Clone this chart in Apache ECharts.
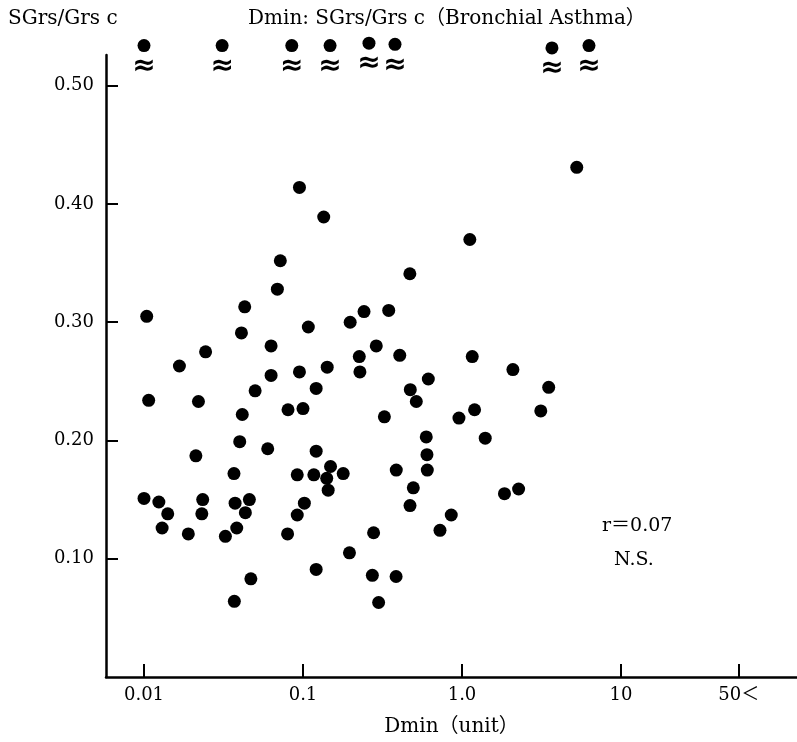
<!DOCTYPE html>
<html>
<head>
<meta charset="utf-8">
<title>Dmin: SGrs/Grs c (Bronchial Asthma)</title>
<script src="https://cdn.jsdelivr.net/npm/echarts@6.0.0/dist/echarts.min.js"></script>
<style>
  html, body { margin: 0; padding: 0; background: #fff; }
  #chart { width: 797px; height: 742px; }
</style>
</head>
<body>
<div id="chart"></div>
<script>
// Dmin (unit) and SGrs/Grs c for each patient
const dmin = [
  0.095, 0.135, 0.072, 0.069, 0.47, 0.043, 0.0104, 0.242, 0.346, 0.198,
  0.041, 0.108, 0.063, 0.289, 0.0244, 0.226, 0.406, 0.0167, 0.142, 0.063,
  0.095, 0.228, 0.614, 0.050, 0.121, 0.473, 0.0107, 0.022, 0.516,
  0.0415, 0.0805, 0.100, 0.325, 0.040, 0.060, 0.121, 0.596, 0.0212, 0.602,
  0.0368, 0.092, 0.117, 0.149, 0.141, 0.179, 0.144, 0.386, 0.605, 0.494,
  0.0100, 0.0124, 0.0141, 0.0130, 0.0234, 0.0231, 0.0190, 0.0374, 0.0460, 0.0434,
  0.0383, 0.0325, 0.102, 0.092, 0.080, 0.471, 0.856, 0.727, 0.278, 0.196,
  0.121, 0.047, 0.273, 0.385, 0.037, 0.299,
  5.27, 1.12, 1.16, 2.09, 3.51, 0.957, 1.20, 3.13, 1.40, 1.85, 2.27
]
const ratio = [
  0.414, 0.389, 0.352, 0.328, 0.341, 0.313, 0.305, 0.309, 0.310, 0.300,
  0.291, 0.296, 0.280, 0.280, 0.275, 0.271, 0.272, 0.263, 0.262, 0.255,
  0.258, 0.258, 0.252, 0.242, 0.244, 0.243, 0.234, 0.233, 0.233,
  0.222, 0.226, 0.227, 0.220, 0.199, 0.193, 0.191, 0.203, 0.187, 0.188,
  0.172, 0.171, 0.171, 0.178, 0.168, 0.172, 0.158, 0.175, 0.175, 0.160,
  0.151, 0.148, 0.138, 0.126, 0.150, 0.138, 0.121, 0.147, 0.150, 0.139,
  0.126, 0.119, 0.147, 0.137, 0.121, 0.145, 0.137, 0.124, 0.122, 0.105,
  0.091, 0.083, 0.086, 0.085, 0.064, 0.063,
  0.431, 0.370, 0.271, 0.260, 0.245, 0.219, 0.226, 0.225, 0.202, 0.155, 0.159
]

// values above 0.50, drawn over the axis break
const offDmin = [0.010, 0.031, 0.085, 0.148, 0.260, 0.379, 3.68, 6.29]
const offRatio = [0.534, 0.534, 0.534, 0.534, 0.536, 0.535, 0.532, 0.534]

const xTicks = [0.01, 0.1, 1, 10, 55]
const xTickLabels = ['0.01', '0.1', '1.0', '10', '50\uff1c']
const yTicks = [0.1, 0.2, 0.3, 0.4, 0.5]

const serif = '"DejaVu Serif", "Noto Sans CJK JP", serif'
const xTickLogs = xTicks.map((v) => Math.log10(v))

const chart = echarts.init(document.getElementById('chart'))

chart.setOption({
  animation: false,
  grid: { left: 106, right: 0, top: 55, bottom: 64 },
  xAxis: {
    type: 'value',
    min: -2.239,
    max: 2.107,
    name: 'Dmin\uff08unit\uff09',
    nameLocation: 'middle',
    nameGap: 40,
    nameTextStyle: { color: '#000', fontFamily: serif, fontSize: 20 },
    axisLine: { show: true, onZero: false, lineStyle: { color: '#000', width: 2.5 } },
    axisTick: {
      show: true, inside: true, length: 13,
      customValues: xTickLogs,
      lineStyle: { color: '#000', width: 2 },
    },
    axisLabel: {
      customValues: xTickLogs,
      margin: 9,
      color: '#000',
      fontFamily: serif,
      fontSize: 18,
      formatter: (v) => {
        const i = xTickLogs.findIndex((t) => Math.abs(t - v) < 1e-6)
        return i >= 0 ? xTickLabels[i] : ''
      },
    },
    splitLine: { show: false },
  },
  yAxis: {
    type: 'value',
    min: 0,
    max: 0.526,
    axisLine: { show: true, onZero: false, lineStyle: { color: '#000', width: 2.5 } },
    axisTick: {
      show: true, inside: true, length: 12,
      customValues: yTicks,
      lineStyle: { color: '#000', width: 2 },
    },
    axisLabel: {
      customValues: yTicks,
      margin: 12,
      color: '#000',
      fontFamily: serif,
      fontSize: 18,
      formatter: (v) => v.toFixed(2),
    },
    splitLine: { show: false },
  },
  graphic: [
    { type: 'text', left: 8, top: 9, style: { text: 'SGrs/Grs c', font: '20px ' + serif, fill: '#000' } },
    { type: 'text', left: 248, top: 9, style: { text: 'Dmin: SGrs/Grs c\uff08Bronchial Asthma\uff09', font: '20px ' + serif, fill: '#000' } },
    { type: 'text', left: 602, top: 517, style: { text: 'r\uff1d0.07', font: '19px ' + serif, fill: '#000' } },
    { type: 'text', left: 614, top: 551, style: { text: 'N.S.', font: '19px ' + serif, fill: '#000' } },
  ],
  series: [
    {
      type: 'scatter',
      symbolSize: 13,
      itemStyle: { color: '#000', opacity: 1 },
      data: dmin.map((d, i) => [Math.log10(d), ratio[i]]),
    },
    {
      type: 'scatter',
      symbolSize: 13,
      clip: false,
      itemStyle: { color: '#000', opacity: 1 },
      label: {
        show: true,
        formatter: '\u2248',
        position: 'inside',
        offset: [0, 21],
        color: '#000',
        fontFamily: '"DejaVu Sans", sans-serif',
        fontSize: 28,
        fontWeight: 'bold',
      },
      data: offDmin.map((d, i) => [Math.log10(d), offRatio[i]]),
    },
  ],
})
</script>
</body>
</html>
